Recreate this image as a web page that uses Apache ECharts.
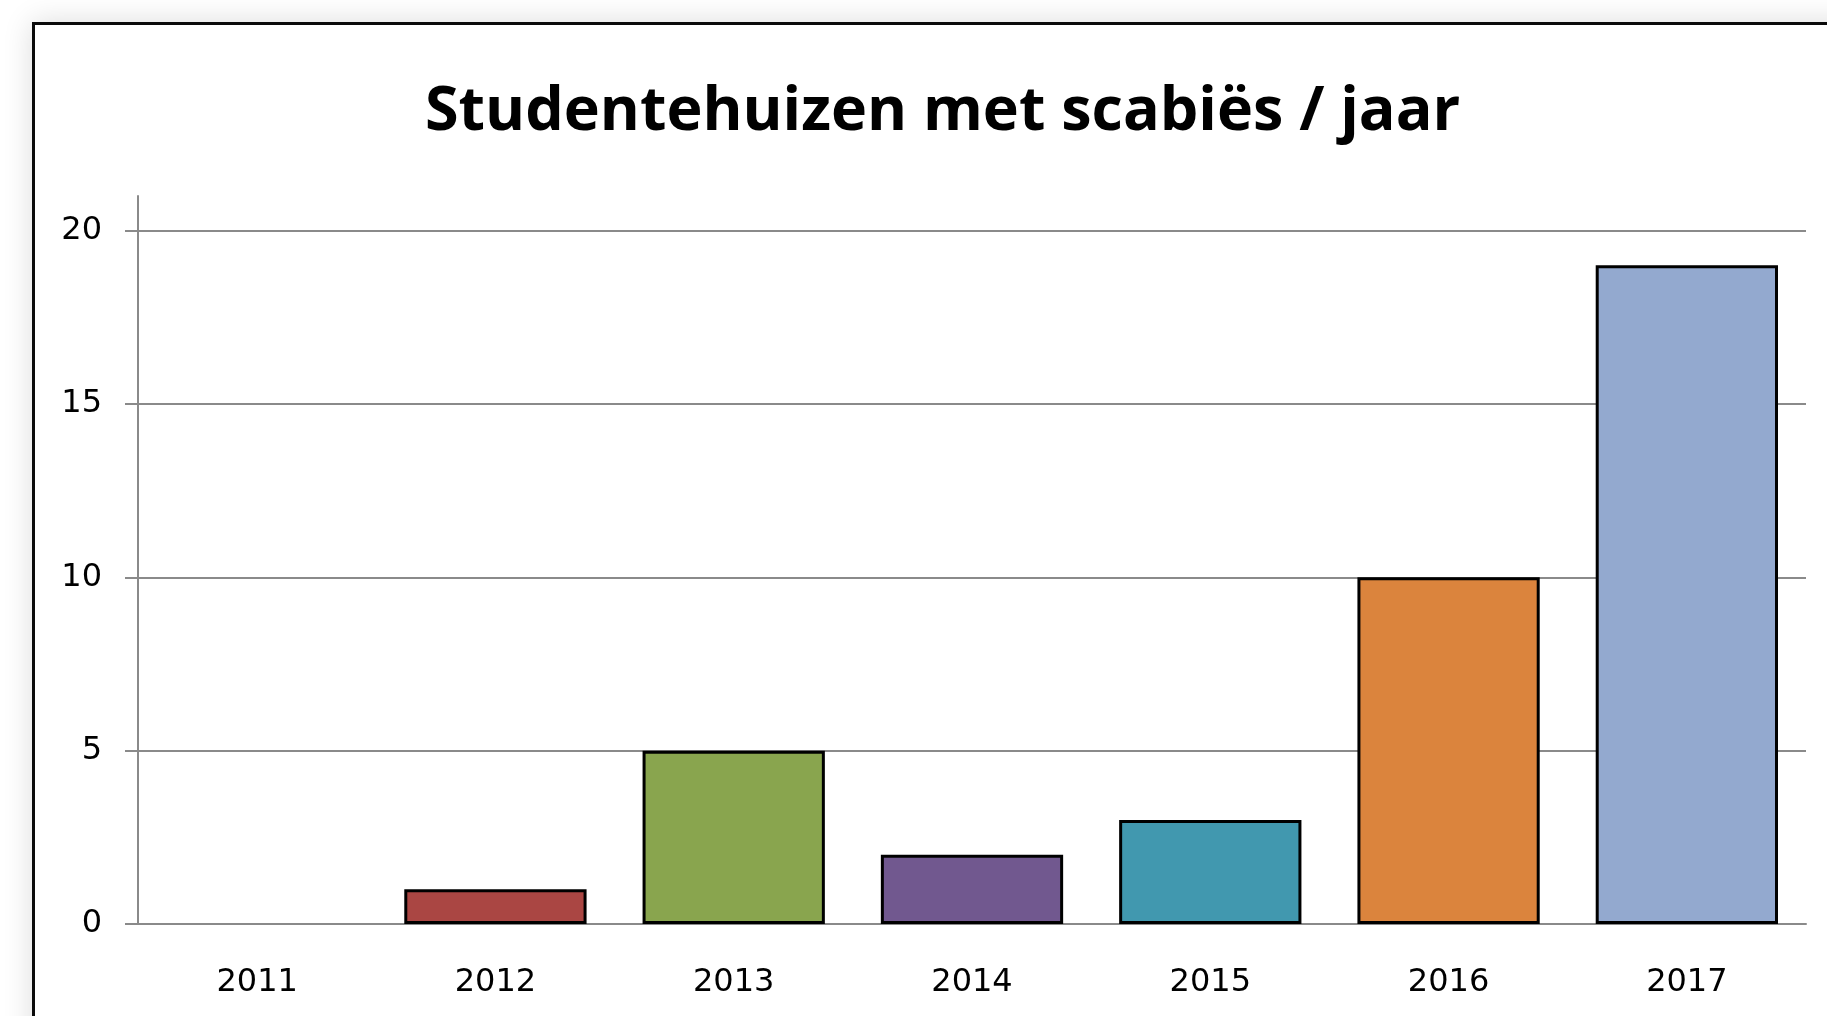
<!DOCTYPE html>
<html>
<head>
<meta charset="utf-8">
<script src="https://cdn.jsdelivr.net/npm/echarts@6.0.0/dist/echarts.min.js"></script>
<style>
  html, body { margin: 0; padding: 0; width: 1827px; height: 1016px; overflow: hidden; background: #ffffff; }
  #frame {
    position: absolute; left: 32px; top: 22px; width: 2000px; height: 2000px;
    border: 3px solid #0a0a0a; background: #ffffff;
    box-shadow: 0 0 28px rgba(0, 0, 0, 0.14);
  }
  #chart { position: absolute; left: 0; top: 0; width: 1827px; height: 1016px; }
</style>
</head>
<body>
<div id="frame"></div>
<div id="chart"></div>
<script>
  // data
  var years = ['2011', '2012', '2013', '2014', '2015', '2016', '2017'];
  var houses = [0, 1, 5, 2, 3, 10, 19];
  var barColors = ['#4572A7', '#AA4643', '#89A54E', '#71588F', '#4198AF', '#DB843D', '#93A9CF'];
  var yTicks = [0, 5, 10, 15, 20];

  var chartDom = document.getElementById('chart');
  var myChart = echarts.init(chartDom, null, { renderer: 'canvas' });
  var option;

  var axisGray = '#8a8a8a';

  option = {
    backgroundColor: 'transparent',
    animation: false,
    title: {
      text: 'Studentehuizen met scabiës / jaar',
      left: 420,
      top: 77,
      textStyle: {
        fontFamily: 'Open Sans',
        fontWeight: 'bold',
        fontSize: 61,
        color: '#000000'
      }
    },
    grid: {
      left: 138,
      right: 21,
      top: 196,
      bottom: 92
    },
    xAxis: {
      type: 'category',
      data: years,
      boundaryGap: true,
      axisLine: {
        lineStyle: { color: axisGray, width: 2 }
      },
      axisTick: {
        length: 12,
        lineStyle: { color: axisGray, width: 2 }
      },
      axisLabel: {
        margin: 43,
        color: '#000000',
        fontFamily: 'DejaVu Sans',
        fontSize: 32
      },
      splitLine: { show: false }
    },
    yAxis: {
      type: 'value',
      min: 0,
      max: 21,
      interval: 5,
      axisLine: {
        show: true,
        lineStyle: { color: axisGray, width: 2 }
      },
      axisTick: {
        show: true,
        length: 13,
        customValues: yTicks,
        lineStyle: { color: axisGray, width: 2 }
      },
      axisLabel: {
        margin: 36,
        customValues: yTicks,
        color: '#000000',
        fontFamily: 'DejaVu Sans',
        fontSize: 32,
        padding: [8, 0, 0, 0]
      },
      splitLine: {
        show: true,
        lineStyle: {
          color: [axisGray, axisGray, axisGray, axisGray, axisGray, 'rgba(0,0,0,0)'],
          width: 2
        }
      }
    },
    series: [{
      type: 'bar',
      barCategoryGap: '23.5%',
      data: houses.map(function (v, i) {
        return {
          value: v,
          itemStyle: {
            color: barColors[i],
            borderColor: '#000000',
            borderWidth: v > 0 ? 3 : 0
          }
        };
      })
    }]
  };

  option && myChart.setOption(option);
</script>
</body>
</html>
